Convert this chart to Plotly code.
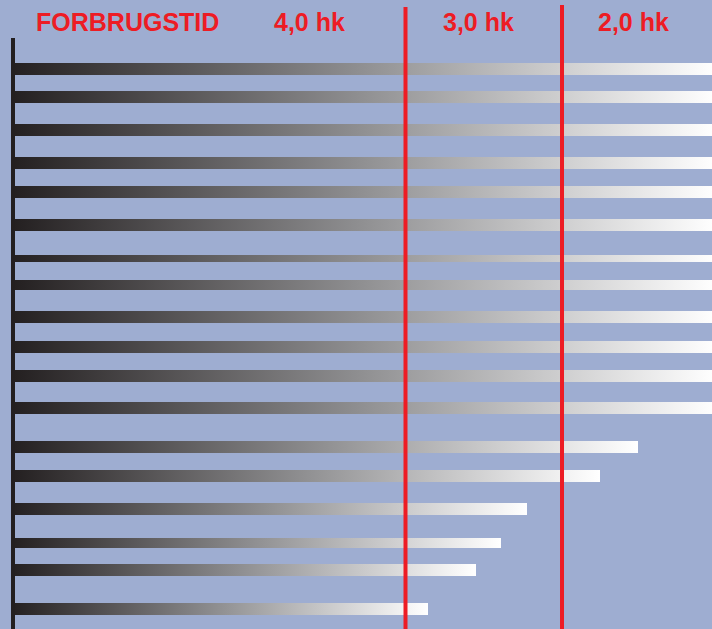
import plotly.graph_objects as go

# ---- data -------------------------------------------------------------
# consumption time per row (length of each bar, in chart units)
bar_values = [705, 705, 705, 705, 705, 705, 705, 705, 705, 705, 705, 705,
              627, 589, 516, 490, 465, 417]
# vertical row positions of the bars (chart units, top = 0)
row_positions = [69, 97, 130, 163, 192, 225, 258.5, 285, 317, 347, 376, 408,
                 447, 476, 509, 543, 570, 609]
bar_thickness = [12, 12, 12, 12, 12, 12, 7, 10, 12, 12, 12, 12,
                 12, 12, 12, 10, 12, 12]
# power class thresholds on the time axis
threshold_values = [394.5, 551]
threshold_tops = [7, 5]
# header labels and their centres on the time axis
header_labels = ["FORBRUGSTID", "4,0 hk", "3,0 hk", "2,0 hk"]
header_centres = [116, 298, 467, 622.5]

BG = "#9eadd1"
RED = "#ed1c24"
DARK = "#231f20"

fig = go.Figure()

for v, yc, t in zip(bar_values, row_positions, bar_thickness):
    h = t / 2
    fig.add_trace(go.Scatter(
        x=[0, v, v, 0, 0],
        y=[yc - h, yc - h, yc + h, yc + h, yc - h],
        mode="lines",
        line=dict(width=0),
        fill="toself",
        fillgradient=dict(type="horizontal",
                          colorscale=[[0, DARK], [0.5, "#909092"], [1, "#ffffff"]]),
        hoverinfo="skip",
        showlegend=False,
    ))

# vertical axis line
fig.add_shape(type="line", x0=2, x1=2, y0=38, y1=640, xref="x", yref="y",
              line=dict(color=DARK, width=4), layer="above")

# red threshold lines
for xv, top in zip(threshold_values, threshold_tops):
    fig.add_shape(type="line", x0=xv, x1=xv, y0=top, y1=640, xref="x", yref="y",
                  line=dict(color=RED, width=4), layer="above")

for lab, xc in zip(header_labels, header_centres):
    fig.add_annotation(x=xc, y=22, xref="x", yref="y", text=lab, showarrow=False,
                       xanchor="center", yanchor="middle",
                       font=dict(family="Liberation Sans, Arial, sans-serif",
                                 size=25, color=RED, weight="bold"))

fig.update_layout(
    width=712, height=629,
    margin=dict(l=0, r=0, t=0, b=0),
    paper_bgcolor=BG, plot_bgcolor=BG,
    xaxis=dict(range=[-11, 701], visible=False, fixedrange=True),
    yaxis=dict(range=[629, 0], visible=False, fixedrange=True),
    showlegend=False,
)

fig.write_html("out.html",
               config={"displayModeBar": False},
               post_script="document.body.style.margin='0';document.body.style.background='" + BG + "';")
